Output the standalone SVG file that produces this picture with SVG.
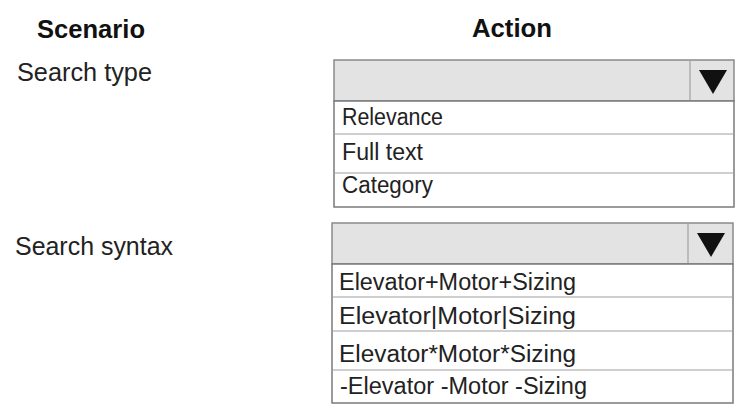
<svg xmlns="http://www.w3.org/2000/svg" width="746" height="416" viewBox="0 0 746 416">
<style>
text{font-family:"Liberation Sans",Arial,sans-serif;fill:#1a1a1a}
.hd{font-weight:bold;font-size:26px;fill:#111}
.lbl{font-size:25px;fill:#222}
.opt{font-size:23px;fill:#222}
.head{fill:#e3e3e3;stroke:#8a8a8a;stroke-width:1.5}
.list{fill:#ffffff;stroke:#7a7a7a;stroke-width:1.5}
.sep{stroke:#a0a0a0;stroke-width:1.2}
.arrow{fill:#111}
</style>
<rect width="746" height="416" fill="#ffffff"/>
<g id="headers">
<text class="hd" x="37" y="38" textLength="108" lengthAdjust="spacingAndGlyphs">Scenario</text>
<text class="hd" x="472" y="37" textLength="80" lengthAdjust="spacingAndGlyphs">Action</text>
</g>
<g id="label-search-type">
<text class="lbl" x="17" y="81" textLength="135" lengthAdjust="spacingAndGlyphs">Search type</text>
</g>
<g id="label-search-syntax">
<text class="lbl" x="15" y="255" textLength="158" lengthAdjust="spacingAndGlyphs">Search syntax</text>
</g>
<g id="dropdown-search-type">
<rect class="head" x="334" y="60" width="400" height="41"/>
<line class="sep" x1="690" y1="60" x2="690" y2="101"/>
<polygon class="arrow" points="699,70 727,70 713,94"/>
<rect class="list" x="334" y="101" width="400" height="106"/>
<line class="sep" x1="334" y1="134" x2="734" y2="134"/>
<line class="sep" x1="334" y1="173" x2="734" y2="173"/>
<text class="opt" x="342" y="125" textLength="101" lengthAdjust="spacingAndGlyphs">Relevance</text>
<text class="opt" x="342" y="160" textLength="81" lengthAdjust="spacingAndGlyphs">Full text</text>
<text class="opt" x="342" y="193" textLength="91" lengthAdjust="spacingAndGlyphs">Category</text>
</g>
<g id="dropdown-search-syntax">
<rect class="head" x="332" y="223" width="401" height="41"/>
<line class="sep" x1="688" y1="223" x2="688" y2="264"/>
<polygon class="arrow" points="697,233 725,233 711,257"/>
<rect class="list" x="332" y="264" width="401" height="139"/>
<line class="sep" x1="332" y1="297" x2="733" y2="297"/>
<line class="sep" x1="332" y1="331" x2="733" y2="331"/>
<line class="sep" x1="332" y1="370" x2="733" y2="370"/>
<text class="opt" x="339" y="290" textLength="237" lengthAdjust="spacingAndGlyphs">Elevator+Motor+Sizing</text>
<text class="opt" x="339" y="324" textLength="237" lengthAdjust="spacingAndGlyphs">Elevator|Motor|Sizing</text>
<text class="opt" x="339" y="362" textLength="237" lengthAdjust="spacingAndGlyphs">Elevator*Motor*Sizing</text>
<text class="opt" x="340" y="394" textLength="247" lengthAdjust="spacingAndGlyphs">-Elevator -Motor -Sizing</text>
</g>
<g id="connectors"></g>
</svg>
